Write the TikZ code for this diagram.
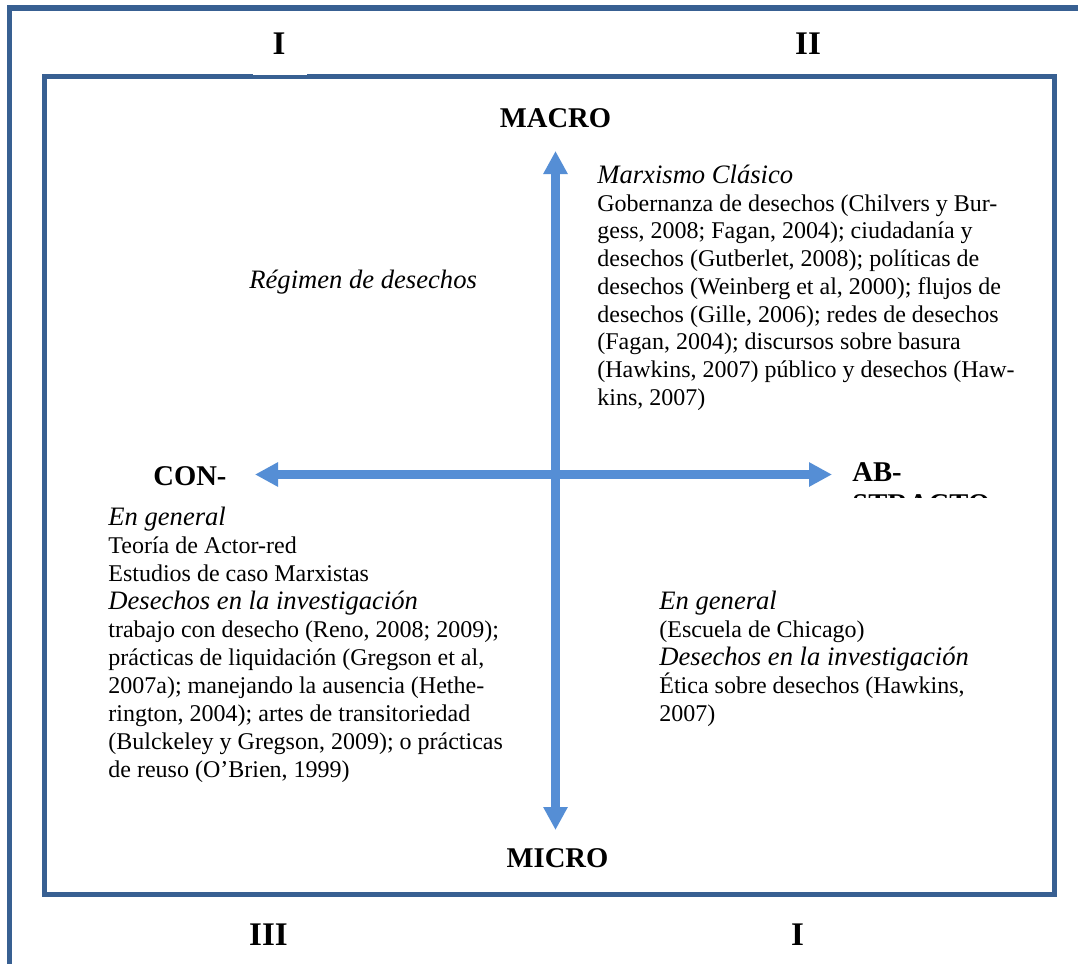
\documentclass[tikz,border=0pt]{standalone}
\usepackage{fontspec}
\setmainfont{Liberation Serif}
\usetikzlibrary{arrows.meta}

\definecolor{frameblue}{RGB}{56,96,146}
\definecolor{axisblue}{RGB}{85,142,213}

\newcommand{\bodysize}{\fontsize{12}{13.85}\selectfont}
\newcommand{\lowsize}{\fontsize{12}{14}\selectfont}
\newcommand{\subhead}[1]{{\fontsize{13.3}{14}\selectfont\itshape #1}}
\newcommand{\textblock}[2]{\parbox[t]{#1}{\raggedright\setlength{\parindent}{0pt}#2}}

\begin{document}
\begin{tikzpicture}[x=0.5pt,y=-0.5pt,
  frame/.style={draw=frameblue, line width=2.6pt},
  axis/.style={draw=axisblue, line width=4.6pt,
    {Triangle[width=11.5pt,length=11.5pt]}-{Triangle[width=11.5pt,length=11.5pt]}},
  pole/.style={inner sep=0pt, font=\bfseries\fontsize{14.3}{16}\selectfont},
  quadrant/.style={inner sep=0pt, font=\bfseries\fontsize{16.5}{19}\selectfont},
  block/.style={inner sep=0pt, anchor=base west}]

  \useasboundingbox (0,0) rectangle (1078,964);
  \fill[white] (0,0) rectangle (1078,964);

  % outer and inner frames
  \begin{scope}
    \clip (0,0) rectangle (1078,964);
    \draw[frame] (9.5,8) rectangle (1100,990);
  \end{scope}
  \draw[frame] (44.5,76.5) rectangle (1054.5,894.5);
  \fill[white] (253,72) rectangle (307,75.3);

  % quadrant numbers
  \node[quadrant, anchor=base] (qI)   at (279,54)    {I};
  \node[quadrant, anchor=base] (qII)  at (808,54)    {II};
  \node[quadrant, anchor=base] (qIII) at (268.5,945) {III};
  \node[quadrant, anchor=base] (qIV)  at (797.5,945) {I};

  % axes
  \coordinate (up)    at (555.5,151);
  \coordinate (down)  at (555.5,830);
  \coordinate (left)  at (255,474.5);
  \coordinate (right) at (832,474.5);
  \draw[axis] (down) -- (up);
  \draw[axis] (left) -- (right);

  % pole labels
  \node[pole, anchor=base] (macro) at (555.5,127) {MACRO};
  \node[pole, anchor=base] (micro) at (557.5,867) {MICRO};
  \node[pole, anchor=base west] (con) at (153,485) {CON-};
  \begin{scope}
    \clip (840,440) rectangle (1040,497);
    \node[pole, anchor=base west] (ab) at (852,481) {AB-};
    \node[pole, anchor=base west] (stracto) at (852,513) {STRACTO};
  \end{scope}

  % quadrant contents
  \node[block] (regimen) at (249,288) {\subhead{Régimen de desechos}};

  \node[block] (marx) at (597,183.5) {\textblock{240pt}{\bodysize
    \subhead{Marxismo Clásico}\\
    Gobernanza de desechos (Chilvers y Bur-\\
    gess, 2008; Fagan, 2004); ciudadanía y\\
    desechos (Gutberlet, 2008); políticas de\\
    desechos (Weinberg et al, 2000); flujos de\\
    desechos (Gille, 2006); redes de desechos\\
    (Fagan, 2004); discursos sobre basura\\
    (Hawkins, 2007) público y desechos (Haw-\\
    kins, 2007)}};

  \node[block] (concreto) at (108,525) {\textblock{240pt}{\lowsize
    \subhead{En general}\\
    Teoría de Actor-red\\
    Estudios de caso Marxistas\\
    \subhead{Desechos en la investigación}\\
    trabajo con desecho (Reno, 2008; 2009);\\
    prácticas de liquidación (Gregson et al,\\
    2007a); manejando la ausencia (Hethe-\\
    rington, 2004); artes de transitoriedad\\
    (Bulckeley y Gregson, 2009); o prácticas\\
    de reuso (O’Brien, 1999)}};

  \node[block] (abstracto) at (659,609) {\textblock{200pt}{\lowsize
    \subhead{En general}\\
    (Escuela de Chicago)\\
    \subhead{Desechos en la investigación}\\
    Ética sobre desechos (Hawkins,\\
    2007)}};
\end{tikzpicture}
\end{document}
